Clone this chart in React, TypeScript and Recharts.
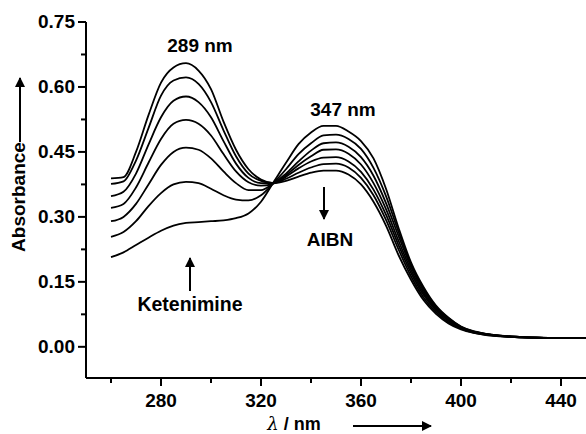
import React from 'react';
import { LineChart, Line, XAxis, YAxis } from 'recharts';

// wavelength grid (nm)
const wavelengths = [
  260, 265, 270, 275, 280, 285, 290, 295, 300, 305, 310, 315, 320, 325, 330, 335, 340, 345,
  350, 355, 360, 365, 370, 375, 380, 385, 390, 395, 400, 405, 410, 420, 430, 440, 450,
];

// absorbance spectra, from the first scan (c0) to the last (c6)
const c0 = [
  0.207, 0.218, 0.235, 0.252, 0.268, 0.28, 0.286, 0.288, 0.29, 0.292, 0.297, 0.308, 0.335, 0.38,
  0.425, 0.468, 0.495, 0.51, 0.51, 0.497, 0.475, 0.435, 0.365, 0.275, 0.195, 0.138, 0.095, 0.067,
  0.047, 0.036, 0.03, 0.024, 0.021, 0.02, 0.02,
];
const c1 = [
  0.254, 0.265, 0.29, 0.325, 0.355, 0.375, 0.381, 0.378, 0.365, 0.35, 0.34, 0.338, 0.35, 0.378,
  0.41, 0.445, 0.47, 0.488, 0.49, 0.48, 0.457, 0.413, 0.348, 0.266, 0.19, 0.135, 0.093, 0.066,
  0.046, 0.035, 0.03, 0.024, 0.021, 0.02, 0.02,
];
const c2 = [
  0.29, 0.3, 0.33, 0.375, 0.42, 0.45, 0.46, 0.455, 0.435, 0.405, 0.378, 0.362, 0.362, 0.378, 0.4,
  0.428, 0.453, 0.47, 0.472, 0.462, 0.438, 0.395, 0.332, 0.256, 0.185, 0.13, 0.09, 0.064, 0.045,
  0.035, 0.029, 0.024, 0.021, 0.02, 0.02,
];
const c3 = [
  0.321, 0.33, 0.368, 0.425, 0.48, 0.515, 0.524, 0.515, 0.488, 0.445, 0.405, 0.38, 0.372, 0.377,
  0.396, 0.42, 0.44, 0.455, 0.456, 0.446, 0.421, 0.378, 0.318, 0.245, 0.178, 0.125, 0.087, 0.062,
  0.044, 0.034, 0.029, 0.023, 0.021, 0.02, 0.02,
];
const c4 = [
  0.348, 0.358, 0.4, 0.467, 0.53, 0.568, 0.578, 0.565, 0.53, 0.475, 0.423, 0.39, 0.378, 0.378,
  0.393, 0.412, 0.428, 0.437, 0.438, 0.428, 0.404, 0.363, 0.305, 0.235, 0.171, 0.12, 0.084, 0.06,
  0.043, 0.034, 0.028, 0.023, 0.021, 0.02, 0.02,
];
const c5 = [
  0.376, 0.382, 0.43, 0.505, 0.58, 0.615, 0.622, 0.607, 0.565, 0.5, 0.44, 0.4, 0.383, 0.378,
  0.388, 0.402, 0.414, 0.422, 0.423, 0.414, 0.39, 0.35, 0.293, 0.225, 0.163, 0.114, 0.08, 0.057,
  0.042, 0.033, 0.028, 0.023, 0.021, 0.02, 0.02,
];
const c6 = [
  0.389, 0.392, 0.45, 0.535, 0.61, 0.645, 0.655, 0.638, 0.595, 0.52, 0.455, 0.41, 0.386, 0.378,
  0.383, 0.393, 0.402, 0.407, 0.407, 0.398, 0.375, 0.335, 0.28, 0.212, 0.155, 0.108, 0.076, 0.054,
  0.04, 0.032, 0.027, 0.023, 0.021, 0.02, 0.02,
];

const seriesKeys = ['c0', 'c1', 'c2', 'c3', 'c4', 'c5', 'c6'];
const seriesValues = [c0, c1, c2, c3, c4, c5, c6];

const xTicks = [260, 280, 300, 320, 340, 360, 380, 400, 420, 440];
const xMajor = [280, 320, 360, 400, 440];
const yTicks = [0, 0.075, 0.15, 0.225, 0.3, 0.375, 0.45, 0.525, 0.6, 0.675, 0.75];
const yMajor = [0, 0.15, 0.3, 0.45, 0.6, 0.75];

const data = wavelengths.map((w, i) => {
  const row: Record<string, number> = { w };
  seriesKeys.forEach((k, j) => {
    row[k] = seriesValues[j][i];
  });
  return row;
});

const FONT = '"Liberation Sans", Arial, sans-serif';

const XTick = (props: any) => {
  const { x, y, payload } = props;
  const major = xMajor.includes(payload.value);
  return (
    <g>
      <line x1={x} y1={y} x2={x} y2={y + (major ? 8 : 5)} stroke="#000" strokeWidth={2} />
      {major && (
        <text x={x} y={y + 29} textAnchor="middle" fontFamily={FONT} fontWeight="bold" fontSize={19} fill="#000">
          {payload.value}
        </text>
      )}
    </g>
  );
};

const YTick = (props: any) => {
  const { x, y, payload } = props;
  const major = yMajor.some((m) => Math.abs(m - payload.value) < 1e-6);
  return (
    <g>
      <line x1={x} y1={y} x2={x - (major ? 8 : 5)} y2={y} stroke="#000" strokeWidth={2} />
      {major && (
        <text x={x - 11} y={y + 6} textAnchor="end" fontFamily={FONT} fontWeight="bold" fontSize={19} fill="#000">
          {payload.value.toFixed(2)}
        </text>
      )}
    </g>
  );
};

export default function App() {
  return (
    <div style={{ position: 'absolute', left: 0, top: 0, width: 586, height: 434, background: '#fff' }}>
      <LineChart width={586} height={434} data={data} margin={{ top: 22, right: 0, bottom: 0, left: 0 }}>
        <XAxis
          dataKey="w"
          type="number"
          domain={[250, 450]}
          ticks={xTicks}
          interval={0}
          height={56}
          tickSize={0}
          tickMargin={0}
          tickLine={false}
          axisLine={{ stroke: '#000', strokeWidth: 2 }}
          tick={<XTick />}
          allowDataOverflow
        />
        <YAxis
          type="number"
          domain={[-0.072, 0.75]}
          ticks={yTicks}
          interval={0}
          width={86}
          tickSize={0}
          tickMargin={0}
          tickLine={false}
          axisLine={{ stroke: '#000', strokeWidth: 2 }}
          tick={<YTick />}
          allowDataOverflow
        />
        {seriesKeys.map((k) => (
          <Line
            key={k}
            dataKey={k}
            type="monotone"
            stroke="#000"
            strokeWidth={1.8}
            dot={false}
            isAnimationActive={false}
          />
        ))}
      </LineChart>
      <svg
        width={586}
        height={434}
        style={{ position: 'absolute', left: 0, top: 0, pointerEvents: 'none' }}
        fontFamily={FONT}
        fontWeight="bold"
        fill="#000"
      >
        <defs>
          <marker id="ah" viewBox="0 0 10 10" refX="9" refY="5" markerWidth="5" markerHeight="5" orient="auto">
            <path d="M0,0 L10,5 L0,10 z" fill="#000" />
          </marker>
        </defs>
        <text x={200} y={52} textAnchor="middle" fontSize={19}>289 nm</text>
        <text x={343} y={116} textAnchor="middle" fontSize={19}>347 nm</text>
        <line x1={324} y1={187} x2={324} y2={219} stroke="#000" strokeWidth={2} markerEnd="url(#ah)" />
        <text x={330} y={246} textAnchor="middle" fontSize={19}>AIBN</text>
        <line x1={190} y1={291} x2={190} y2={258} stroke="#000" strokeWidth={2} markerEnd="url(#ah)" />
        <text x={190} y={311} textAnchor="middle" fontSize={19.5}>Ketenimine</text>
        <text transform="translate(25,197) rotate(-90)" textAnchor="middle" fontSize={19}>Absorbance</text>
        <line x1={20} y1={142} x2={20} y2={78} stroke="#000" strokeWidth={2} markerEnd="url(#ah)" />
        <text x={294} y={430} textAnchor="middle" fontSize={18}>
          <tspan fontStyle="italic" fontWeight="normal" fontFamily='"DejaVu Serif", serif'>λ</tspan> / nm
        </text>
        <line x1={353} y1={426} x2={431} y2={426} stroke="#000" strokeWidth={2} markerEnd="url(#ah)" />
      </svg>
    </div>
  );
}
